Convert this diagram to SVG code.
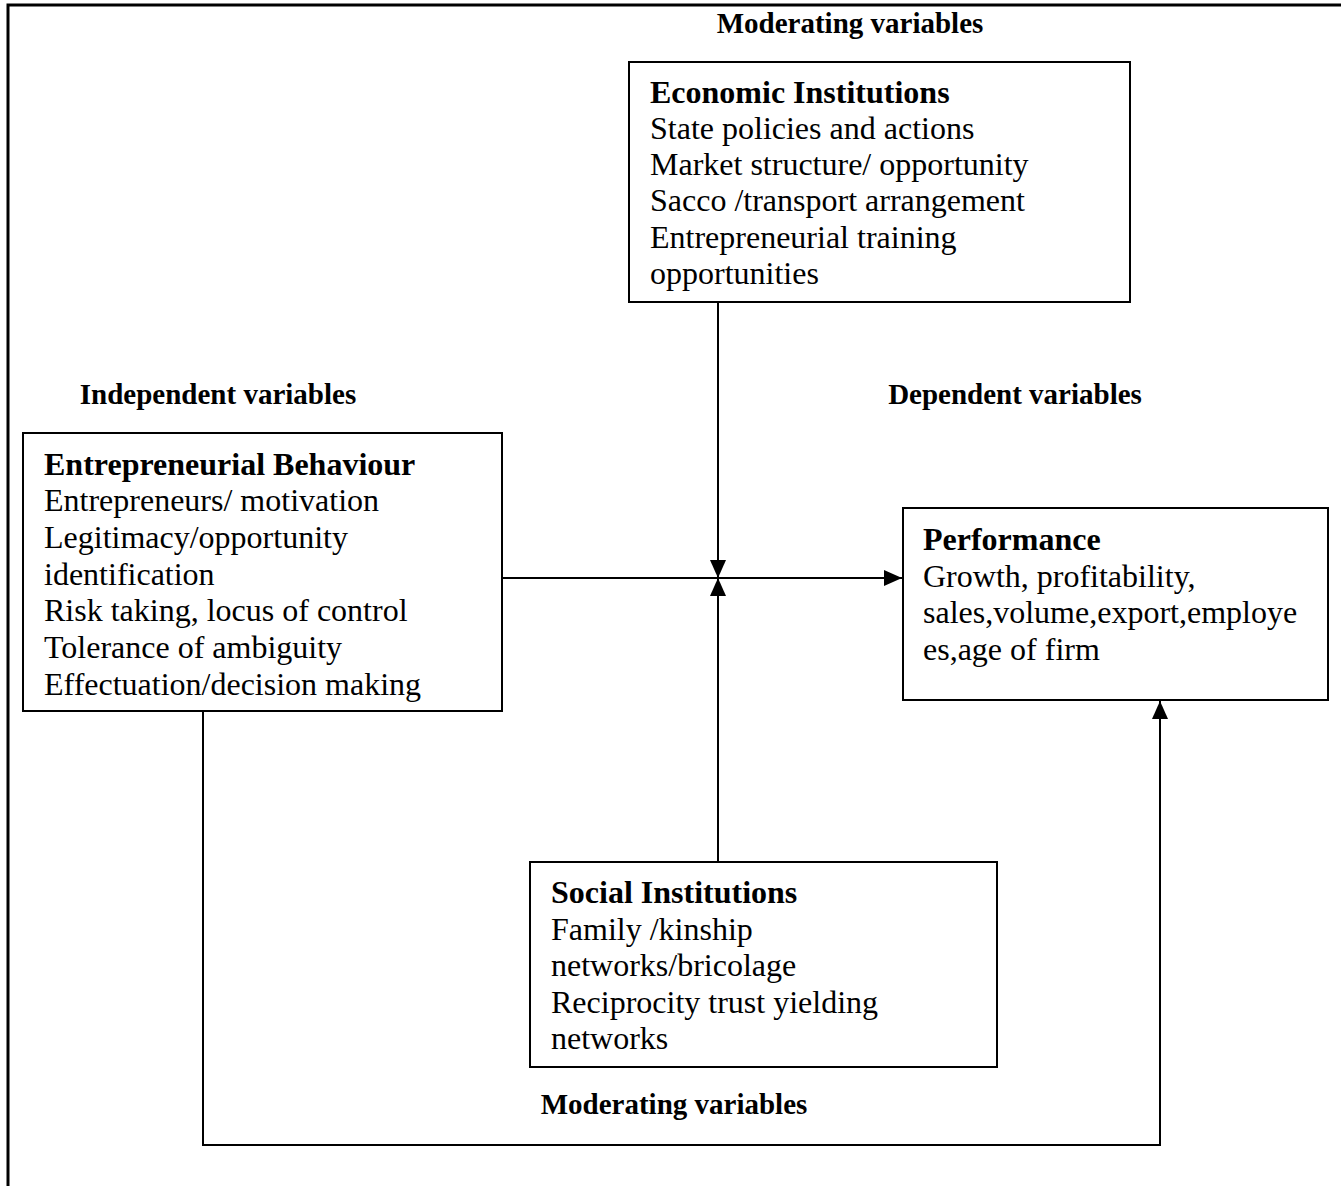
<svg xmlns="http://www.w3.org/2000/svg" width="1341" height="1186" viewBox="0 0 1341 1186">
<defs>
<style>
.box{fill:#fff;stroke:#000;stroke-width:2}
.ln{fill:none;stroke:#000;stroke-width:2}
text{font-family:"Liberation Serif","Times New Roman",serif;fill:#000}
.t{font-size:32px}
.h{font-size:32px;font-weight:bold}
.lab{font-size:29px;font-weight:bold}
</style>
<marker id="ah2" viewBox="0 0 10 10" refX="10" refY="5" markerWidth="18" markerHeight="16" markerUnits="userSpaceOnUse" orient="auto" preserveAspectRatio="none"><path d="M0,0 L10,5 L0,10 z" fill="#000"/></marker>
</defs>
<rect width="1341" height="1186" fill="#fff"/>
<path d="M8,1186 V5 H1341" fill="none" stroke="#000" stroke-width="3"/>
<text class="lab" x="850" y="33" text-anchor="middle">Moderating variables</text>
<text class="lab" x="218" y="404" text-anchor="middle">Independent variables</text>
<text class="lab" x="1015" y="404" text-anchor="middle">Dependent variables</text>
<text class="lab" x="674" y="1114" text-anchor="middle">Moderating variables</text>
<g id="connectors">
<line class="ln" x1="718" y1="302" x2="718" y2="578" marker-end="url(#ah2)"/>
<line class="ln" x1="718" y1="862" x2="718" y2="578" marker-end="url(#ah2)"/>
<line class="ln" x1="502" y1="578" x2="902" y2="578" marker-end="url(#ah2)"/>
<polyline class="ln" points="203,711 203,1145 1160,1145 1160,701" marker-end="url(#ah2)"/>
</g>
<g id="economic">
<rect class="box" x="629" y="62" width="501" height="240"/>
<text class="h" x="650" y="103">Economic Institutions</text>
<text class="t" x="650" y="139">State policies and actions</text>
<text class="t" x="650" y="175">Market structure/ opportunity</text>
<text class="t" x="650" y="211">Sacco /transport arrangement</text>
<text class="t" x="650" y="248">Entrepreneurial training</text>
<text class="t" x="650" y="284">opportunities</text>
</g>
<g id="entrepreneurial">
<rect class="box" x="23" y="433" width="479" height="278"/>
<text class="h" x="44" y="475">Entrepreneurial Behaviour</text>
<text class="t" x="44" y="511">Entrepreneurs/ motivation</text>
<text class="t" x="44" y="548">Legitimacy/opportunity</text>
<text class="t" x="44" y="585">identification</text>
<text class="t" x="44" y="621">Risk taking, locus of control</text>
<text class="t" x="44" y="658">Tolerance of ambiguity</text>
<text class="t" x="44" y="695">Effectuation/decision making</text>
</g>
<g id="performance">
<rect class="box" x="903" y="508" width="425" height="192"/>
<text class="h" x="923" y="550">Performance</text>
<text class="t" x="923" y="587">Growth, profitability,</text>
<text class="t" x="923" y="623">sales,volume,export,employe</text>
<text class="t" x="923" y="660">es,age of firm</text>
</g>
<g id="social">
<rect class="box" x="530" y="862" width="467" height="205"/>
<text class="h" x="551" y="903">Social Institutions</text>
<text class="t" x="551" y="940">Family /kinship</text>
<text class="t" x="551" y="976">networks/bricolage</text>
<text class="t" x="551" y="1013">Reciprocity trust yielding</text>
<text class="t" x="551" y="1049">networks</text>
</g>
</svg>
